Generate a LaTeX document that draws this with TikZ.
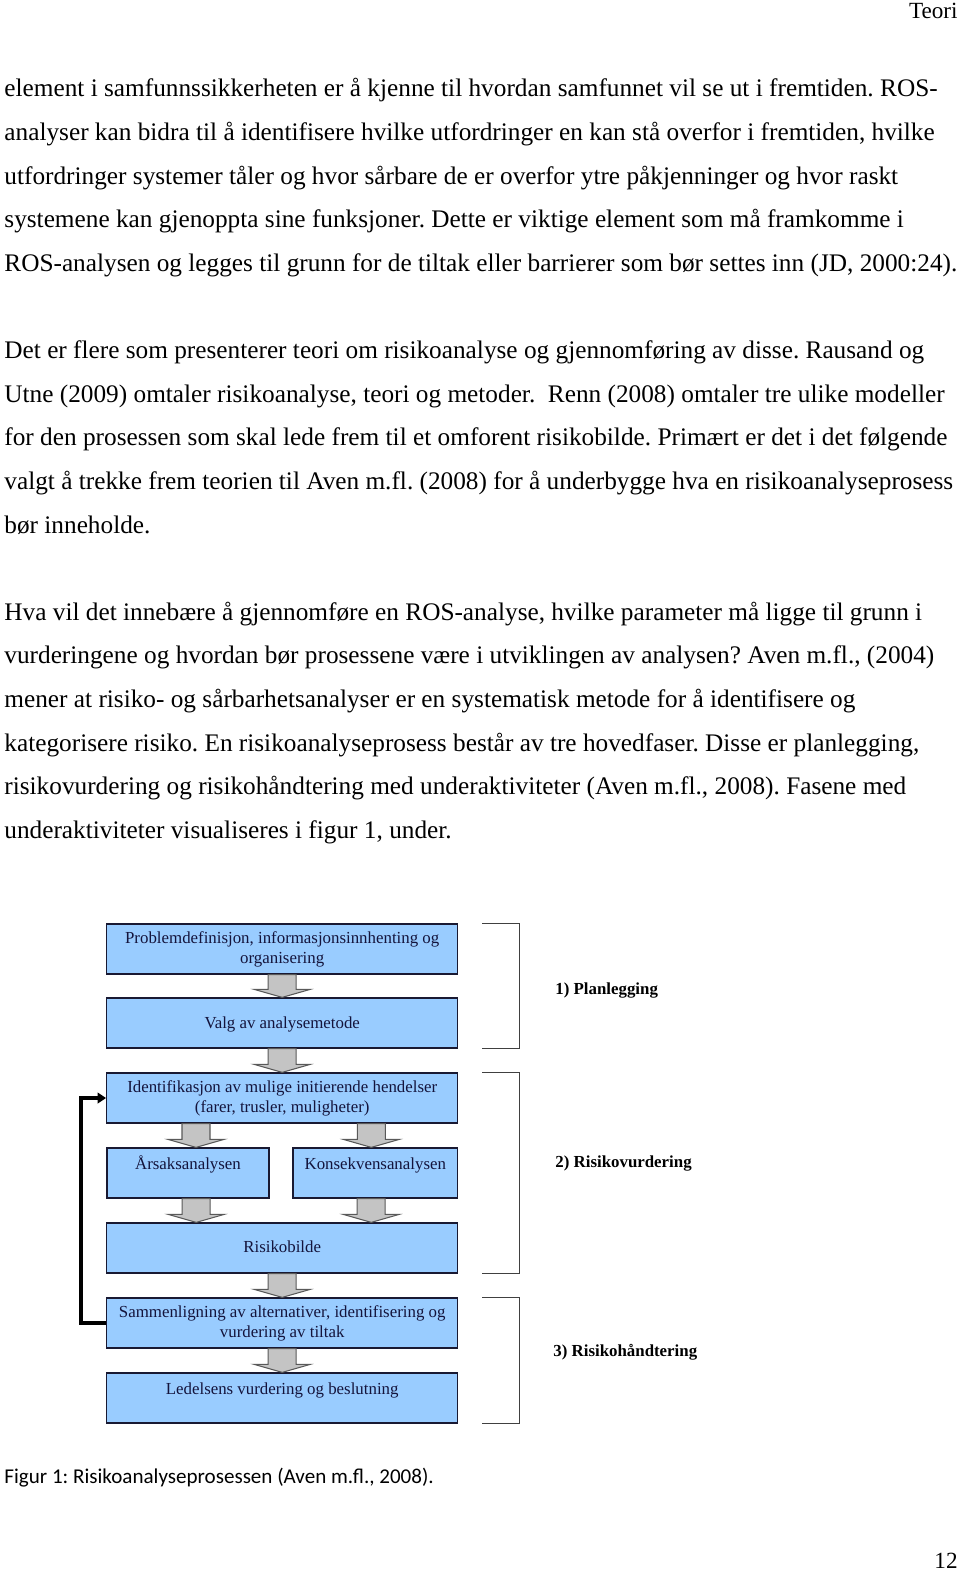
\documentclass[tikz,border=0pt]{standalone}
\usepackage{fontspec}
\setmainfont{Liberation Serif}
\newfontfamily\calibri{Carlito}
\usetikzlibrary{calc,arrows.meta}
\frenchspacing

\newcommand{\pxu}{0.4746pt}
\definecolor{boxblue}{RGB}{153,204,255}
\definecolor{boxline}{RGB}{25,25,50}
\definecolor{boxtext}{RGB}{20,20,60}
\definecolor{arrowgray}{RGB}{196,196,196}

\tikzset{
  procbox/.style={draw=boxline, line width=0.6pt, fill=boxblue, text=boxtext, align=center,
    minimum height=50*\pxu, inner sep=0pt, font=\fontsize{8}{9.5}\selectfont},
  highbox/.style={text height=7pt, text depth=10.6pt},
  blockarrow/.style={fill=arrowgray, draw=black!65, line width=0.5pt, line join=miter},
  feedback/.style={line width=1.7pt, -{Triangle[length=4pt,width=5pt]}},
  phase/.style={draw=black!75, line width=0.6pt},
  phaselabel/.style={anchor=west, inner sep=0pt, font=\fontsize{8}{9.5}\selectfont\bfseries},
  bodyline/.style={anchor=base west, inner sep=0pt, font=\fontsize{12}{14}\selectfont}
}

% grey block arrow from one box down to the next (#3 = x shift from the target centre)
\newcommand{\flowarrow}[3]{%
  \draw[blockarrow] ($(#1.south -| #2.north)+(#3-14,0)$) -- ++(28,0)
    -- ($(#2.north)+(#3+14,-8)$) -- ++(14,0) -- ($(#2.north)+(#3,0)$)
    -- ($(#2.north)+(#3-28,-8)$) -- ++(14,0) -- cycle;}

\begin{document}
\begin{tikzpicture}[x=\pxu, y=-\pxu]
\useasboundingbox (0,0) rectangle (960,1592);

\node[anchor=base east, inner sep=0pt, font=\fontsize{11}{13}\selectfont] (head) at (958,19) {Teori};

% running text, one node per printed line
\foreach \k/\txt in {
  0/{element i samfunnssikkerheten er å kjenne til hvordan samfunnet vil se ut i fremtiden. ROS-},
  1/{analyser kan bidra til å identifisere hvilke utfordringer en kan stå overfor i fremtiden, hvilke},
  2/{utfordringer systemer tåler og hvor sårbare de er overfor ytre påkjenninger og hvor raskt},
  3/{systemene kan gjenoppta sine funksjoner. Dette er viktige element som må framkomme i},
  4/{ROS-analysen og legges til grunn for de tiltak eller barrierer som bør settes inn (JD, 2000:24).},
  6/{Det er flere som presenterer teori om risikoanalyse og gjennomføring av disse. Rausand og},
  7/{Utne (2009) omtaler risikoanalyse, teori og metoder.\ \ Renn (2008) omtaler tre ulike modeller},
  8/{for den prosessen som skal lede frem til et omforent risikobilde. Primært er det i det følgende},
  9/{valgt å trekke frem teorien til Aven m.fl. (2008) for å underbygge hva en risikoanalyseprosess},
  10/{bør inneholde.},
  12/{Hva vil det innebære å gjennomføre en ROS-analyse, hvilke parameter må ligge til grunn i},
  13/{vurderingene og hvordan bør prosessene være i utviklingen av analysen? Aven m.fl., (2004)},
  14/{mener at risiko- og sårbarhetsanalyser er en systematisk metode for å identifisere og},
  15/{kategorisere risiko. En risikoanalyseprosess består av tre hovedfaser. Disse er planlegging,},
  16/{risikovurdering og risikohåndtering med underaktiviteter (Aven m.fl., 2008). Fasene med},
  17/{underaktiviteter visualiseres i figur 1, under.}}
  \node[bodyline] (line\k) at (4,97+43.6*\k) {\txt};

% figure
\node[procbox, minimum width=351*\pxu] (b1) at (282.2,949) {Problemdefinisjon, informasjonsinnhenting og\\organisering};
\node[procbox, minimum width=351*\pxu] (b2) at (282.2,1023) {\mbox{}\\[-3pt]Valg av analysemetode};
\node[procbox, minimum width=351*\pxu] (b3) at (282.2,1098) {Identifikasjon av mulige initierende hendelser\\(farer, trusler, muligheter)};
\node[procbox, highbox, minimum width=162*\pxu] (b4) at (188,1173) {Årsaksanalysen};
\node[procbox, highbox, minimum width=164.7*\pxu] (b5) at (375.3,1173) {Konsekvensanalysen};
\node[procbox, minimum width=351*\pxu] (b6) at (282.2,1248) {\mbox{}\\[-5pt]Risikobilde};
\node[procbox, minimum width=351*\pxu] (b7) at (282.2,1323) {Sammenligning av alternativer, identifisering og\\vurdering av tiltak};
\node[procbox, highbox, minimum width=351*\pxu] (b8) at (282.2,1398) {Ledelsens vurdering og beslutning};

\flowarrow{b1}{b2}{0}
\flowarrow{b2}{b3}{0}
\flowarrow{b3}{b4}{8}
\flowarrow{b3}{b5}{-4}
\flowarrow{b4}{b6}{-86}
\flowarrow{b5}{b6}{89}
\flowarrow{b6}{b7}{0}
\flowarrow{b7}{b8}{0}

\draw[feedback] (b7.west) -- ++(-25,0) |- (b3.west);

% phase brackets
\draw[phase] ($(b1.north east)+(24,0)$) -- ++(37,0) |- ($(b2.south east)+(24,0)$);
\draw[phase] ($(b3.north east)+(24,0)$) -- ++(37,0) |- ($(b6.south east)+(24,0)$);
\draw[phase] ($(b7.north east)+(24,0)$) -- ++(37,0) |- ($(b8.south east)+(24,0)$);
\node[phaselabel] (p1) at (555,991) {1) Planlegging};
\node[phaselabel] (p2) at (555,1163) {2) Risikovurdering};
\node[phaselabel] (p3) at (553,1352) {3) Risikohåndtering};

\node[anchor=base west, inner sep=0pt, font=\calibri\fontsize{10}{12}\selectfont] (caption) at (4,1483) {Figur 1: Risikoanalyseprosessen (Aven m.fl., 2008).};
\node[anchor=base east, inner sep=0pt, font=\fontsize{11}{13}\selectfont] (pageno) at (958,1568) {12};
\end{tikzpicture}
\end{document}
